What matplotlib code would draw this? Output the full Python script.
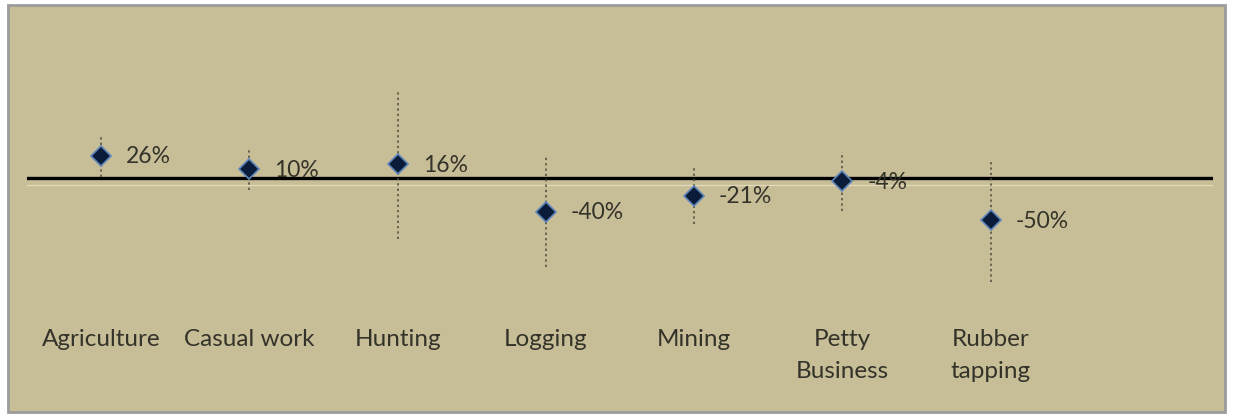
import matplotlib.pyplot as plt
from matplotlib.patches import Rectangle

# data
categories = ["Agriculture", "Casual work", "Hunting", "Logging", "Mining",
              "Petty\nBusiness", "Rubber\ntapping"]
values = [26, 10, 16, -40, -21, -4, -50]
errors = [25, 24, 88, 65, 33, 35, 72]
value_labels = ["26%", "10%", "16%", "-40%", "-21%", "-4%", "-50%"]

BG = "#C7BE98"
TXT = "#34332A"
W, H = 1233, 417

plt.rcParams["font.family"] = ["Lato", "DejaVu Sans"]

fig = plt.figure(figsize=(W / 100, H / 100), dpi=100)
fig.patch.set_facecolor("white")

# framed tan background
fig.patches.append(Rectangle((8 / W, 5 / H), 1217 / W, 407 / H, transform=fig.transFigure,
                             facecolor=BG, edgecolor="#9C9C9C", linewidth=2, zorder=-5))

ax = fig.add_axes([27 / W, (H - 300) / H, 1186 / W, 270 / H])
ax.set_zorder(2)
ax.patch.set_alpha(0)
for s in ax.spines.values():
    s.set_visible(False)

x = list(range(len(categories)))
ax.axhline(0, color="black", linewidth=2.4, zorder=2)
ax.axhline(-8.5, color="#E2DAB8", linewidth=0.9, zorder=1)

ax.errorbar(x, values, yerr=errors, fmt="none", ecolor="#4E4A3C",
            elinewidth=1.1, linestyle=":", capsize=0, zorder=3)
for bar in ax.containers[0].lines[2]:
    bar.set_linestyle((0, (1.5, 2)))

ax.plot(x, values, linestyle="none", marker="D", markersize=10.5,
        markerfacecolor="#0B1B3A", markeredgecolor="#5C86B8", markeredgewidth=1.2, zorder=4)

for xi, v, lab in zip(x, values, value_labels):
    ax.annotate(lab, (xi, v), xytext=(18, -0.5), textcoords="offset points",
                ha="left", va="center", fontsize=16.5, color=TXT, zorder=5)

ax.set_xlim(-0.5, 7.5)
ax.set_ylim(-143.5, 174)
ax.set_yticks([])
ax.set_xticks(x)
ax.set_xticklabels(categories, fontsize=17.5, color=TXT, linespacing=1.62, va="top")
ax.tick_params(axis="x", length=0, pad=21)

fig.savefig("out.png", dpi=100, facecolor="white")
